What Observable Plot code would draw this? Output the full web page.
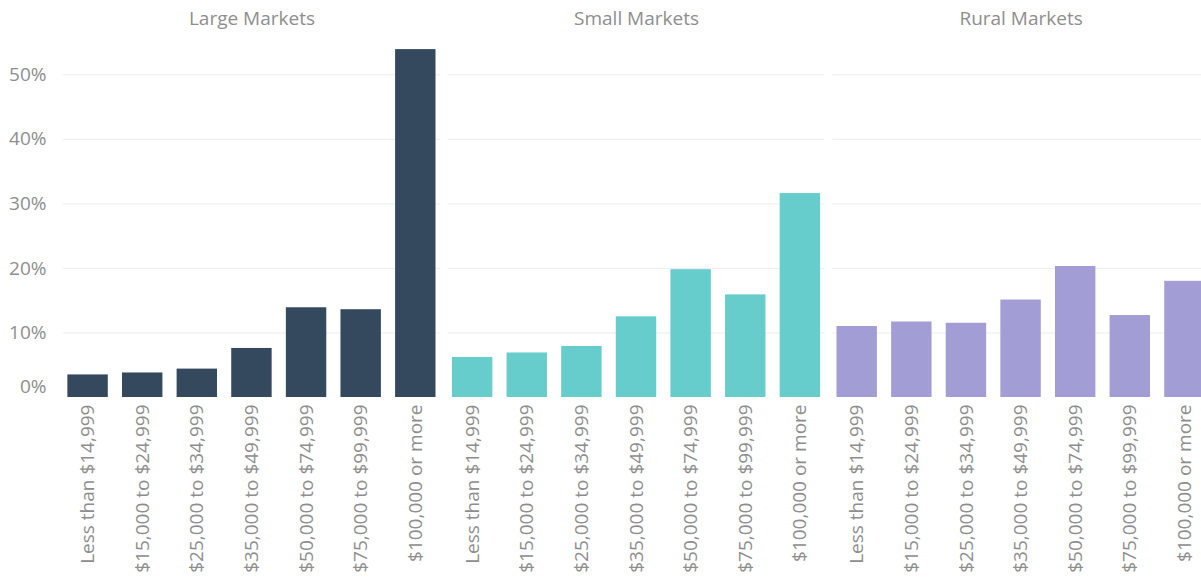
<!DOCTYPE html>
<html><head><meta charset="utf-8">
<script src="https://cdn.jsdelivr.net/npm/d3@7"></script>
<script src="https://cdn.jsdelivr.net/npm/@observablehq/plot@0.6"></script>
<style>html,body{margin:0;padding:0;overflow:hidden;background:#fff;} #chart svg{max-width:none !important;}</style>
</head><body><div id="chart"></div>
<script>
const markets = ["Large Markets", "Small Markets", "Rural Markets"];
const incomeBrackets = ["Less than $14,999", "$15,000 to $24,999", "$25,000 to $34,999", "$35,000 to $49,999", "$50,000 to $74,999", "$75,000 to $99,999", "$100,000 or more"];
const largeShares = [3.5, 3.8, 4.4, 7.6, 13.9, 13.6, 53.9];
const smallShares = [6.2, 6.9, 7.9, 12.5, 19.8, 15.9, 31.6];
const ruralShares = [11.0, 11.7, 11.5, 15.1, 20.3, 12.7, 18.0];
const yTicks = [0, 10, 20, 30, 40, 50];
const marketColors = ["#34495e", "#67cdcc", "#a39dd6"];

const series = [largeShares, smallShares, ruralShares];
const data = markets.flatMap((m, i) => incomeBrackets.map((b, j) => ({market: m, bracket: b, value: series[i][j]})));
const pct = d => d + "%";
const textColor = "#8e8e8e";
const fs = 19;

const plot = Plot.plot({
  width: 1210, height: 580,
  marginLeft: 63, marginRight: 1, marginTop: 42, marginBottom: 183,
  style: {fontFamily: "'Open Sans', sans-serif", fontSize: fs + "px", color: textColor, background: "#fff", maxWidth: "none"},
  fx: {domain: markets, paddingInner: 0.02, paddingOuter: 0, round: false, label: null},
  x: {domain: incomeBrackets, paddingInner: 0.26, paddingOuter: 0.08, round: false, label: null},
  y: {domain: [0, 55], label: null},
  color: {domain: markets, range: marketColors},
  marks: [
    Plot.gridY(yTicks.slice(1), {stroke: "#ececec", strokeOpacity: 1}),
    Plot.barY(data, {fx: "market", x: "bracket", y: "value", fill: "market"}),
    Plot.axisY(yTicks.slice(1), {tickSize: 0, tickPadding: 17, tickFormat: pct, fontSize: fs}),
    Plot.axisY(yTicks.slice(0, 1), {tickSize: 0, tickPadding: 17, tickFormat: pct, dy: -11, fontSize: fs}),
    Plot.axisX({tickSize: 0, tickPadding: 7, tickRotate: -90, label: null, fontSize: fs}),
    Plot.axisFx({anchor: "top", tickSize: 0, tickPadding: 18, label: null, fontSize: fs})
  ]
});
document.getElementById("chart").appendChild(plot);
</script>
</body></html>
